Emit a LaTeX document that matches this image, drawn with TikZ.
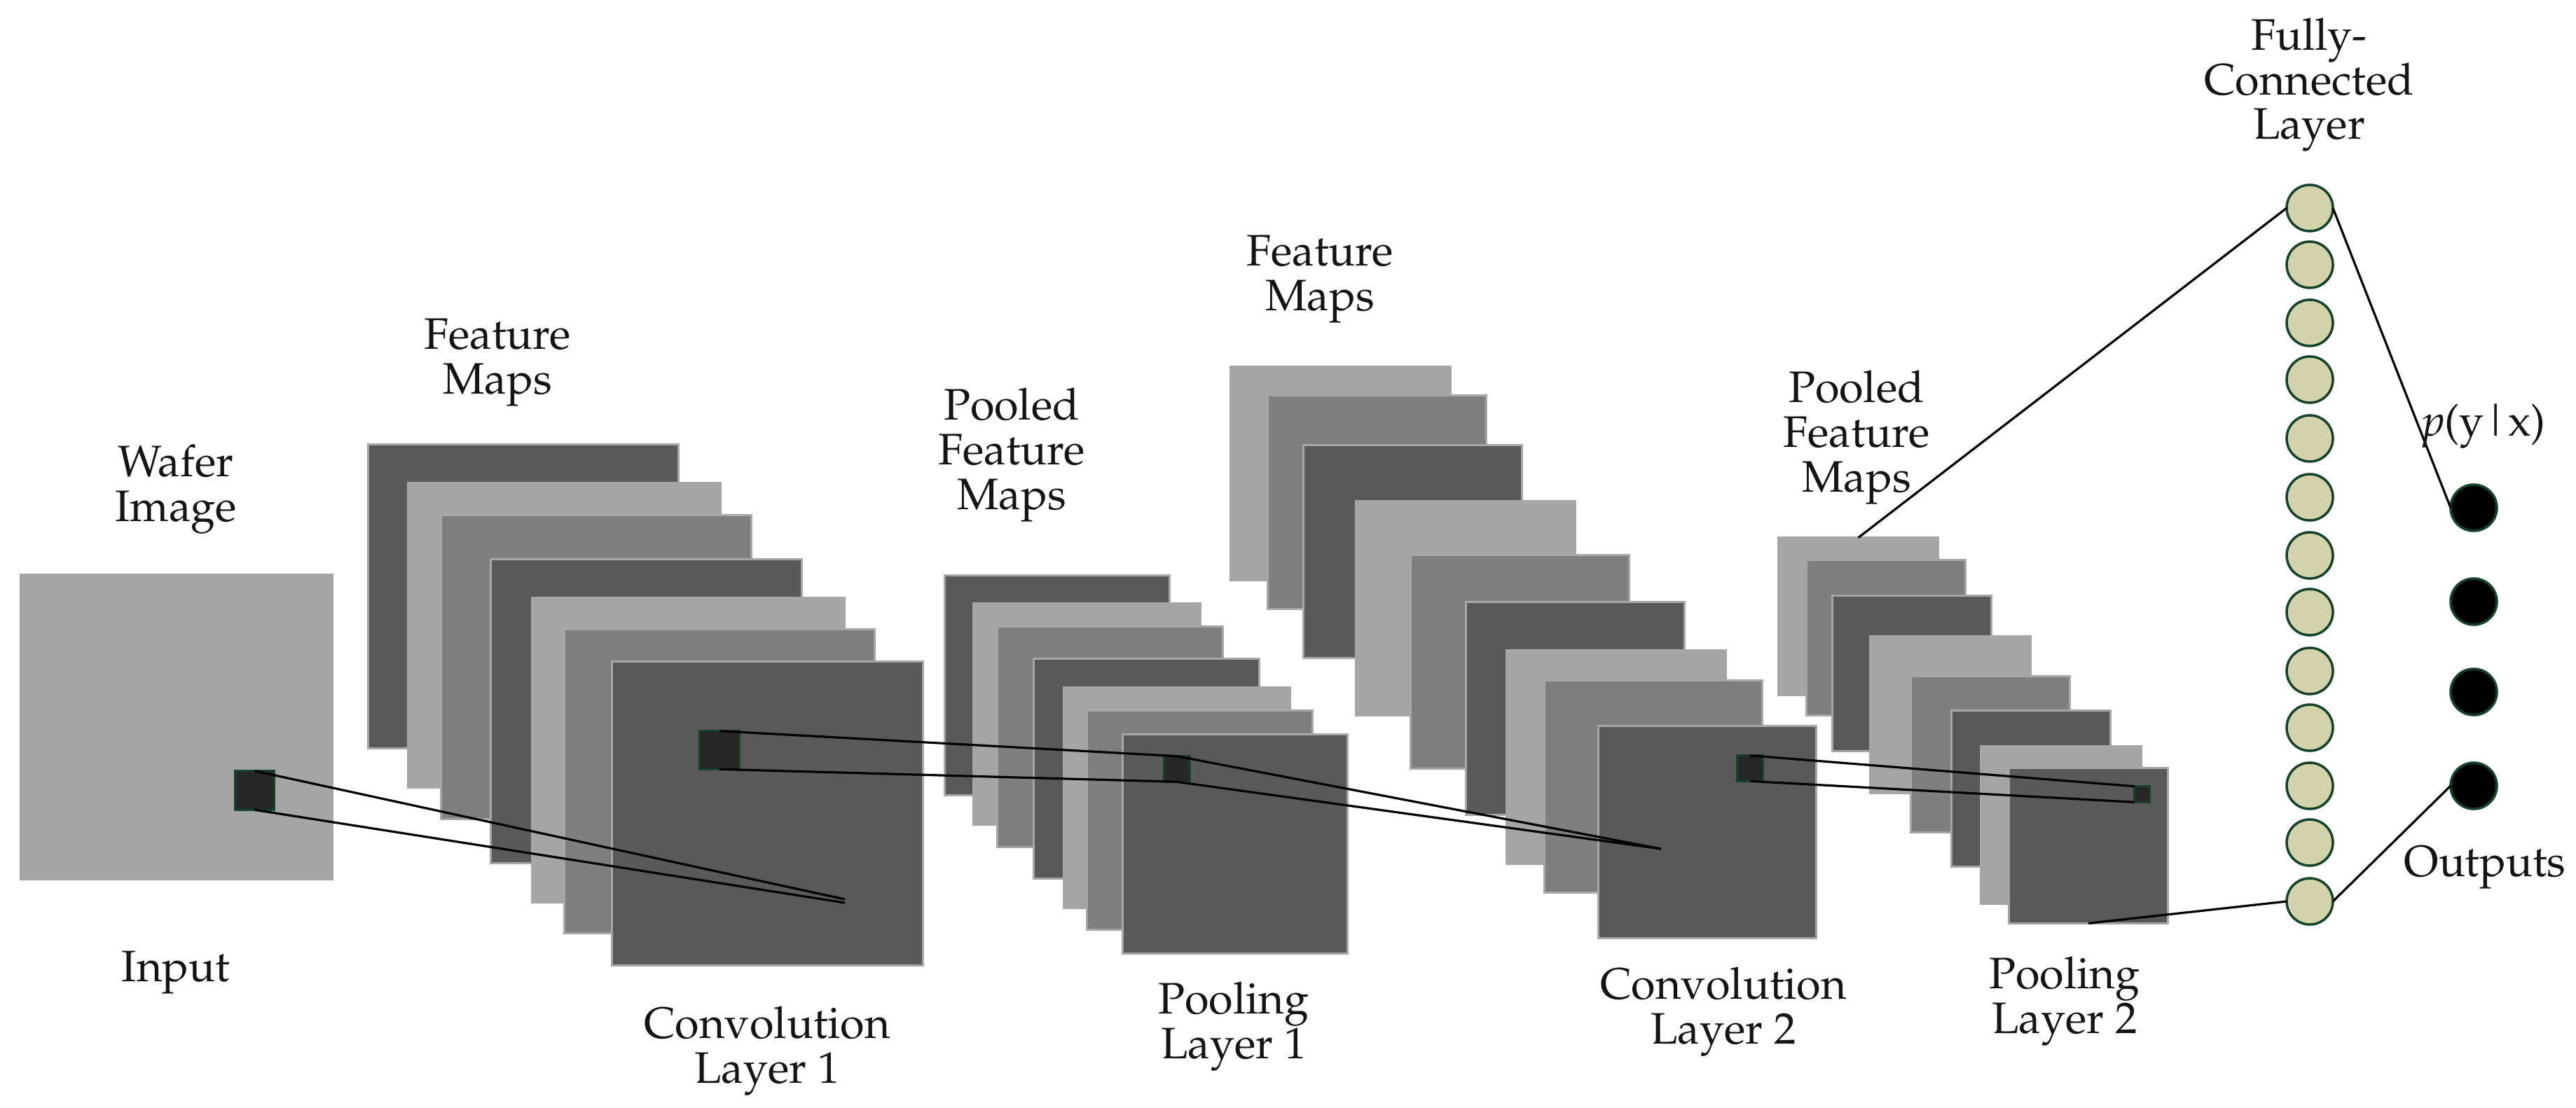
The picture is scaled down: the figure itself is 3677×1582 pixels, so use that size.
\documentclass[tikz,border=0pt]{standalone}
\usepackage[T1]{fontenc}
\usepackage{mathpazo}
\usetikzlibrary{shapes.geometric}
\definecolor{sheetdark}{HTML}{595959}
\definecolor{sheetmid}{HTML}{7F7F7F}
\definecolor{sheetlight}{HTML}{A5A5A5}
\definecolor{sheetedge}{HTML}{A6A6A6}
\definecolor{patchfill}{HTML}{262626}
\definecolor{nodeedge}{HTML}{14422A}
\definecolor{nodefill}{HTML}{D2D3AB}
\tikzset{
  sheet/.style={rectangle,draw=sheetedge,line width=0.035cm,inner sep=0pt,outer sep=0pt},
  dark/.style={sheet,fill=sheetdark},
  mid/.style={sheet,fill=sheetmid},
  light/.style={sheet,fill=sheetlight},
  patch/.style={rectangle,draw=nodeedge,fill=patchfill,line width=0.03cm,inner sep=0pt,outer sep=0pt},
  fcnode/.style={circle,draw=nodeedge,fill=nodefill,line width=0.035cm,inner sep=0pt,outer sep=0pt,minimum size=0.66cm},
  outnode/.style={fcnode,fill=black},
  wire/.style={draw=black,line width=0.032cm},
  label/.style={anchor=base,align=center,inner sep=0pt,outer sep=0pt,text=black!92,font=\fontsize{17.9}{18.1}\selectfont},
}
% name, style, x1, y1, x2, y2 (outer edges in reference pixels)
\newcommand{\sheetbox}[6]{%
  \node[#2,minimum width={(#5-#3-3.4)*0.01cm},minimum height={(#6-#4-3.4)*0.01cm}] (#1) at ({(#3+#5)/2},{(#4+#6)/2}) {};}
\begin{document}
\begin{tikzpicture}[x=0.01cm,y=-0.01cm]
\useasboundingbox (0,0) rectangle (3677,1582);
% input
\sheetbox{input}{light}{28}{819}{476}{1257}
\sheetbox{inpatch}{patch}{334}{1099}{393}{1158}
% conv 1 stack
\sheetbox{a1}{dark}{524}{633}{970}{1070}
\sheetbox{a2}{light}{581}{688}{1030}{1126}
\sheetbox{a3}{mid}{628}{734}{1074}{1171}
\sheetbox{a4}{dark}{699}{797}{1146}{1234}
\sheetbox{a5}{light}{758}{852}{1207}{1290}
\sheetbox{a6}{mid}{804}{897}{1250}{1334}
\sheetbox{a7}{dark}{872}{943}{1319}{1380}
\sheetbox{apatch}{patch}{997}{1042}{1057}{1100}
% pool 1 stack
\sheetbox{b1}{dark}{1347}{820}{1671}{1137}
\sheetbox{b2}{light}{1388}{860}{1715}{1179}
\sheetbox{b3}{mid}{1422}{893}{1747}{1211}
\sheetbox{b4}{dark}{1474}{939}{1799}{1256}
\sheetbox{b5}{light}{1517}{980}{1843}{1298}
\sheetbox{b6}{mid}{1550}{1013}{1875}{1329}
\sheetbox{b7}{dark}{1601}{1047}{1925}{1363}
\sheetbox{bpatch}{patch}{1660}{1078}{1700}{1118}
% conv 2 stack
\sheetbox{c1}{light}{1755}{522}{2072}{830}
\sheetbox{c2}{mid}{1808}{563}{2123}{871}
\sheetbox{c3}{dark}{1859}{634}{2174}{941}
\sheetbox{c4}{light}{1934}{714}{2250}{1023}
\sheetbox{c5}{mid}{2012}{791}{2327}{1099}
\sheetbox{c6}{dark}{2091}{858}{2406}{1165}
\sheetbox{c7}{light}{2149}{927}{2465}{1235}
\sheetbox{c8}{mid}{2203}{970}{2517}{1276}
\sheetbox{c9}{dark}{2280}{1035}{2594}{1341}
\sheetbox{cpatch}{patch}{2478}{1077}{2518}{1117}
% pool 2 stack
\sheetbox{d1}{light}{2537}{766}{2768}{994}
\sheetbox{d2}{mid}{2577}{798}{2807}{1023}
\sheetbox{d3}{dark}{2614}{849}{2844}{1074}
\sheetbox{d4}{light}{2668}{907}{2900}{1134}
\sheetbox{d5}{mid}{2726}{964}{2956}{1190}
\sheetbox{d6}{dark}{2784}{1013}{3014}{1239}
\sheetbox{d7}{light}{2826}{1064}{3058}{1292}
\sheetbox{d8}{dark}{2866}{1095}{3096}{1320}
\sheetbox{dpatch}{patch}{3045}{1121}{3070}{1147}
% fully connected
\foreach \n/\y in {1/297,2/378,3/461,4/542,5/626,6/710,7/793,8/874,9/958,10/1039,11/1122,12/1203,13/1287}
  \node[fcnode] (fc\n) at (3297,\y) {};
% outputs
\node[outnode] (out1) at (3531,725) {};
\node[outnode] (out2) at (3531,859) {};
\node[outnode] (out3) at (3531,988) {};
\node[outnode] (out4) at (3531,1122) {};
% free ends
\coordinate (aendtop) at (1206,1284);
\coordinate (aendbot) at (1206,1289);
\coordinate (cend) at (2371,1212);
% connectors
\draw[wire] (inpatch.north) -- (aendtop);
\draw[wire] (inpatch.south) -- (aendbot);
\draw[wire] (apatch.north) -- (bpatch.north);
\draw[wire] (apatch.south) -- (bpatch.south);
\draw[wire] (bpatch.north) -- (cend);
\draw[wire] (bpatch.south) -- (cend);
\draw[wire] (cpatch.north) -- (dpatch.north west);
\draw[wire] (cpatch.south) -- (dpatch.south west);
\draw[wire] (d1.north) -- (fc1.west);
\draw[wire] (d8.south) -- (fc13.west);
\draw[wire] (fc1.east) -- (out1.west);
\draw[wire] (fc13.east) -- (out4.west);
% labels (anchored at the baseline of the last line)
\node[label] (t1) at (251,744) {Wafer\\Image};
\node[label] (t2) at (251,1401) {Input};
\node[label] (t3) at (710,562) {Feature\\Maps};
\node[label] (t4) at (1095,1546) {Convolution\\Layer 1};
\node[label] (t5) at (1444,727) {Pooled\\Feature\\Maps};
\node[label] (t6) at (1761,1511) {Pooling\\Layer 1};
\node[label] (t7) at (1884,443) {Feature\\Maps};
\node[label] (t8) at (2460,1490) {Convolution\\Layer 2};
\node[label] (t9) at (2650,702) {Pooled\\Feature\\Maps};
\node[label] (t10) at (2947,1475) {Pooling\\Layer 2};
\node[label] (t11) at (3296,199) {Fully-\\Connected\\Layer};
\node[label] (t12) at (3546,622) {\textit{p}(y\kern-0.03em|\kern-0.03em x)};
\node[label] (t13) at (3547,1251) {Outputs};
\end{tikzpicture}
\end{document}
